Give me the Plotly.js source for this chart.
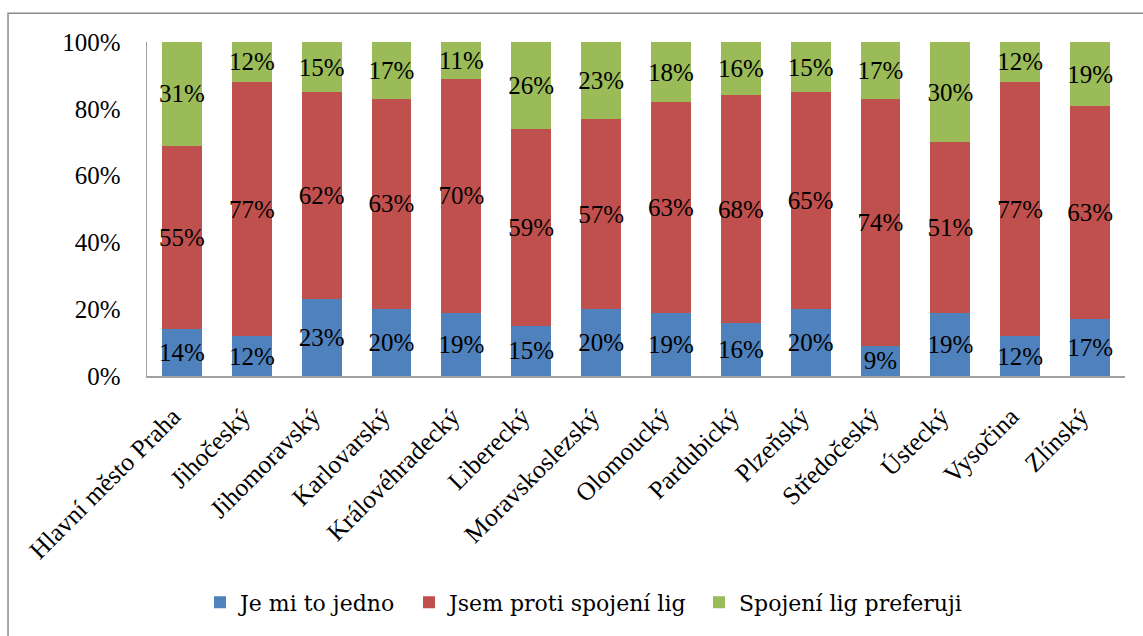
<!DOCTYPE html>
<html>
<head>
<meta charset="utf-8">
<script src="https://cdn.plot.ly/plotly-3.0.1.min.js"></script>
<style>
html,body{margin:0;padding:0;background:#fff;}
#chart{width:1143px;height:636px;}
</style>
</head>
<body>
<div id="chart"></div>
<script>
const categories = ["Hlavní město Praha","Jihočeský","Jihomoravský","Karlovarský","Královéhradecký","Liberecký","Moravskoslezský","Olomoucký","Pardubický","Plzeňský","Středočeský","Ústecký","Vysočina","Zlínský"];
const jeMiToJedno = [14,12,23,20,19,15,20,19,16,20,9,19,12,17];
const jsemProti   = [55,77,62,63,70,59,57,63,68,65,74,51,77,63];
const preferuji   = [31,12,15,17,11,26,23,18,16,15,17,30,12,19];
const seriesNames = ["Je mi to jedno","Jsem proti spojení lig","Spojení lig preferuji"];
const seriesColors = ["#4F81BD","#C0504D","#9BBB59"];
const yTicks = [0,20,40,60,80,100];

const FONT = "Liberation Serif";
const LEGEND_FONT = "DejaVu Serif";
const fnt = (s,f)=>({family:f||FONT,size:s,color:'#000'});
const legendIds = ['legend','legend2','legend3'];
const legendX = [0.0542,0.2679,0.5644];
const series = [jeMiToJedno, jsemProti, preferuji];
const traces = series.map((vals,i)=>({
  type:'bar',
  name: seriesNames[i],
  legend: legendIds[i],
  x: categories,
  y: vals,
  text: vals.map(v=>v+'%'),
  textposition:'inside',
  insidetextanchor:'middle',
  textangle:0,
  constraintext:'none',
  textfont:fnt(25),
  insidetextfont:fnt(25),
  marker:{color:seriesColors[i], line:{width:0}},
  hoverinfo:'skip'
}));

const layout = {
  width:1143, height:636,
  margin:{l:147,r:18,t:42,b:257},
  paper_bgcolor:'#fff', plot_bgcolor:'#fff',
  barmode:'stack', barnorm:'percent', bargap:0.428,
  font:fnt(25),
  showlegend:true,
  xaxis:{type:'category',tickangle:-45,showline:true,linecolor:'#A0A0A0',linewidth:1.5,ticks:'',showgrid:false,zeroline:false,ticklabelstandoff:14,ticklabelshift:-9,tickfont:fnt(25.5),fixedrange:true},
  yaxis:{range:[0,100],tickvals:yTicks,ticktext:yTicks.map(v=>v+'%'),showline:true,linecolor:'#A0A0A0',linewidth:1.5,ticks:'',showgrid:false,zeroline:false,ticklabelstandoff:20,tickfont:fnt(25),fixedrange:true},
  shapes:[{type:'rect',xref:'paper',yref:'paper',x0:-0.1421,x1:1.3,y0:-1.5,y1:1.086,line:{color:'#8C8C8C',width:1.5},fillcolor:'rgba(0,0,0,0)',layer:'below'}]
};
legendIds.forEach((id,i)=>{
  layout[id] = {orientation:'h',x:legendX[i],xanchor:'left',y:-0.678,yanchor:'middle',font:fnt(22,LEGEND_FONT),bgcolor:'rgba(0,0,0,0)',borderwidth:0,itemwidth:30};
});
Plotly.newPlot('chart',traces,layout,{displayModeBar:false,staticPlot:true});
</script>
</body>
</html>
